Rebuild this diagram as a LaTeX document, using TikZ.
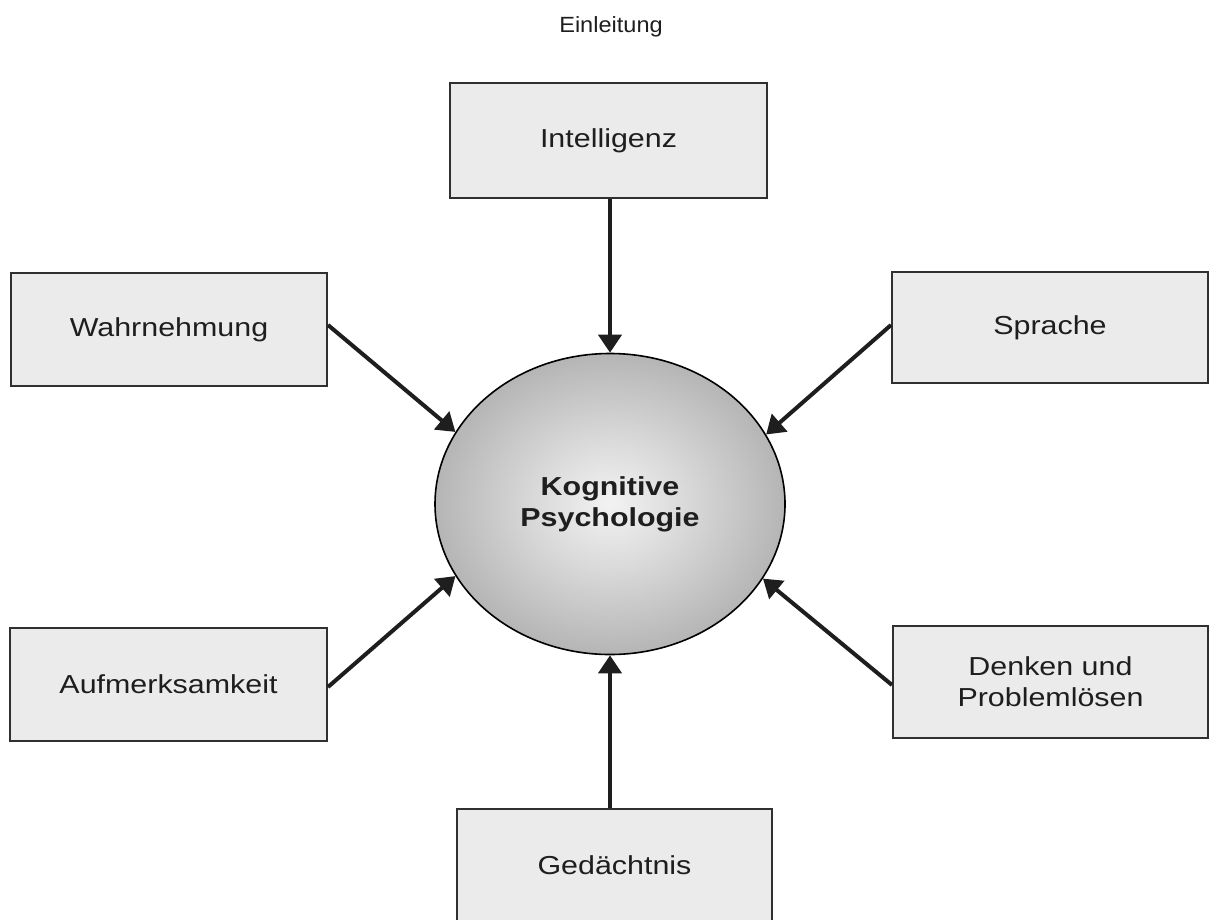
\documentclass[tikz,border=0pt]{standalone}
\usepackage{fontspec}
\setmainfont{Liberation Sans}
\newfontfamily\labfont[FakeStretch=1.17]{Liberation Sans}
\newfontfamily\titfont[FakeStretch=1.07]{Liberation Sans}
\usetikzlibrary{shapes.geometric,arrows.meta}
\pgfdeclareradialshading{kogshade}{\pgfpoint{0bp}{0bp}}{color(0bp)=(black!5); color(10bp)=(black!14); color(32bp)=(black!36); color(50bp)=(black!52)}
\definecolor{boxfill}{HTML}{EBEBEB}
\definecolor{boxline}{HTML}{303030}
\definecolor{ink}{HTML}{1E1E1E}
\begin{document}
\begin{tikzpicture}[x=1pt,y=-1pt,
  topic/.style={draw=boxline, line width=2pt, fill=boxfill, rectangle, inner sep=0pt, align=center,
    font=\labfont\fontsize{26}{31}\selectfont, text=ink},
  arr/.style={draw=ink, line width=4pt, -{Triangle[length=18pt,width=23pt]}},
  ]
\useasboundingbox (0,0) rectangle (1209,919);
\clip (0,0) rectangle (1209,919);
\fill[white] (0,0) rectangle (1209,919);

\node[font=\titfont\fontsize{22}{26}\selectfont, text=ink, anchor=base] (title) at (611,32) {Einleitung};

\node[topic, minimum width=317pt, minimum height=115pt] (int) at (608.5,140.5) {Intelligenz};
\node[topic, minimum width=316pt, minimum height=113pt] (wahr) at (169,329.5) {Wahrnehmung};
\node[topic, minimum width=316pt, minimum height=111pt] (spr) at (1050,327.5) {Sprache};
\node[topic, minimum width=317pt, minimum height=113pt] (auf) at (168.5,684.5) {Aufmerksamkeit};
\node[topic, minimum width=315pt, minimum height=112pt] (den) at (1050.5,682) {Denken und\\Problemlösen};
\node[topic, minimum width=315pt, minimum height=113pt] (ged) at (614.5,865.5) {Gedächtnis};

\node[ellipse, draw=black, line width=1.6pt, shading=kogshade, minimum width=350pt, minimum height=301pt,
  inner sep=0pt, align=center, text=ink, font=\labfont\bfseries\fontsize{26}{31}\selectfont] (kog) at (610,504) {Kognitive\\Psychologie};

\draw[arr] (int.south -| kog.north) -- (kog.north);
\draw[arr] (ged.north -| kog.south) -- (kog.south);
\draw[arr] ([yshift=4.5pt]wahr.east) -- (kog.155.5);
\draw[arr] ([yshift=2.5pt]spr.west) -- (kog.24.9);
\draw[arr] ([yshift=-2.5pt]auf.east) -- (kog.205.5);
\draw[arr] ([yshift=-3pt]den.west) -- (kog.334.8);
\end{tikzpicture}
\end{document}
